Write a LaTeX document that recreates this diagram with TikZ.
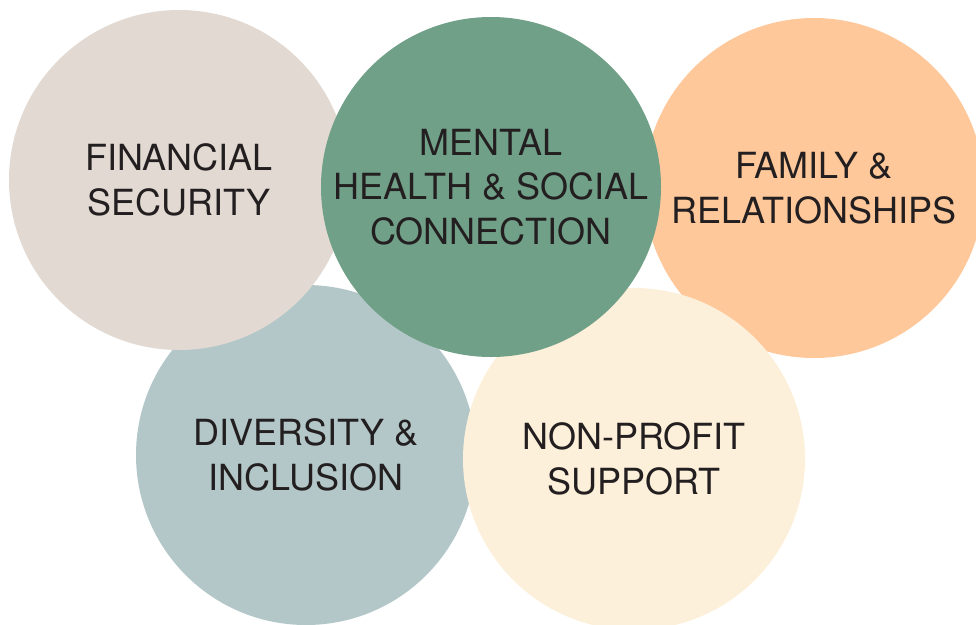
\documentclass[tikz,border=0pt]{standalone}
\usepackage{fontspec}
\setmainfont{TeX Gyre Heros}
\definecolor{cbeige}{RGB}{226,218,210}
\definecolor{cgreen}{RGB}{113,160,136}
\definecolor{corange}{RGB}{254,200,154}
\definecolor{cblue}{RGB}{179,199,200}
\definecolor{ccream}{RGB}{253,240,218}
\definecolor{ctext}{RGB}{35,31,32}
\begin{document}
\begin{tikzpicture}[x=1pt,y=-1pt,
  bubble/.style={circle,inner sep=0pt,minimum size=340pt,align=center,
    text=ctext,font=\fontsize{36}{44.5}\selectfont}]
\useasboundingbox (0,0) rectangle (976,624);
\node[bubble,fill=corange] (fam) at (814,188) {FAMILY \&\\RELATIONSHIPS};
\node[bubble,fill=cblue] (div) at (306,455) {DIVERSITY \&\\INCLUSION};
\node[bubble,fill=cbeige] (fin) at (179,180) {FINANCIAL\\SECURITY};
\node[bubble,fill=ccream,minimum size=342pt] (npo) at (634,459) {NON-PROFIT\\SUPPORT};
\node[bubble,fill=cgreen] (men) at (491,187) {MENTAL\\HEALTH \& SOCIAL\\CONNECTION};
\end{tikzpicture}
\end{document}
